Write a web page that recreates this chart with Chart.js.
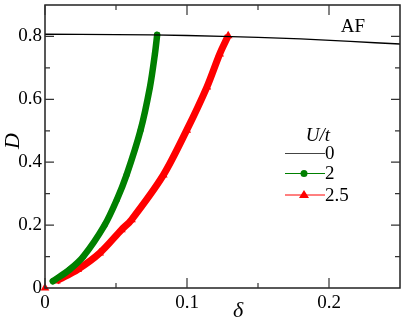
<!DOCTYPE html>
<html><head><meta charset="utf-8">
<script src="https://cdn.jsdelivr.net/npm/chart.js@4"></script>
<style>html,body{margin:0;padding:0;background:#fff;overflow:hidden}#wrap{width:409px;height:323px;position:relative}</style>
</head><body><div id="wrap"><canvas id="c"></canvas></div>
<script>
// U/t = 0 (AF boundary)
const afDelta = [0, 0.05, 0.1, 0.15, 0.18, 0.215, 0.25];
const afD     = [0.807, 0.806, 0.803, 0.797, 0.792, 0.784, 0.776];
// U/t = 2
const u2Delta = [0.0055, 0.0173, 0.027, 0.042, 0.0505, 0.0574, 0.0673, 0.0739, 0.0774, 0.079];
const u2D     = [0.0215, 0.0585, 0.1, 0.2, 0.28, 0.359, 0.502, 0.639, 0.744, 0.805];
// U/t = 2.5
const u25Delta = [0, 0.008, 0.023, 0.0385, 0.0538, 0.0609, 0.0833, 0.0998, 0.114, 0.123, 0.129];
const u25D     = [0, 0.022, 0.059, 0.111, 0.185, 0.217, 0.359, 0.502, 0.639, 0.744, 0.802];
const seriesLabels = ['0', '2', '2.5'];
const xTickLabels = [0, 0.1, 0.2];
const yTickLabels = [0, 0.2, 0.4, 0.6, 0.8];

const pts = (xs, ys) => xs.map((x, i) => ({x, y: ys[i]}));
const SERIF = '"Liberation Serif", "Times New Roman", serif';
const GREEN = '#008000', RED = '#ff0000';

const frame = {
  id: 'frame',
  afterDraw(chart) {
    const {ctx, chartArea: a, scales: {x, y}} = chart;
    ctx.save();
    ctx.strokeStyle = '#222'; ctx.lineWidth = 1.5;
    ctx.strokeRect(a.left, a.top, a.right - a.left, a.bottom - a.top);
    ctx.strokeStyle = '#333'; ctx.lineWidth = 1.2;
    ctx.beginPath();
    [0, 0.05, 0.1, 0.15, 0.2].forEach(v => {
      const px = x.getPixelForValue(v);
      const L = (Math.round(v * 100) % 10 === 0) ? 10 : 5;
      ctx.moveTo(px, a.bottom); ctx.lineTo(px, a.bottom - L);
      ctx.moveTo(px, a.top); ctx.lineTo(px, a.top + L);
    });
    [0.1, 0.2, 0.3, 0.4, 0.5, 0.6, 0.7, 0.8].forEach(v => {
      const py = y.getPixelForValue(v);
      const L = (Math.round(v * 10) % 2 === 0) ? 9 : 5;
      ctx.moveTo(a.left, py); ctx.lineTo(a.left + L, py);
      ctx.moveTo(a.right, py); ctx.lineTo(a.right - L, py);
    });
    ctx.stroke();
    // texts
    ctx.fillStyle = '#000';
    ctx.textAlign = 'center'; ctx.textBaseline = 'middle';
    ctx.font = '19px ' + SERIF;
    ctx.fillText('AF', 353, 27);
    ctx.font = 'italic 22px ' + SERIF;
    ctx.fillText('\u03b4', 238, 311);
    ctx.save();
    ctx.translate(13, 141); ctx.rotate(-Math.PI / 2);
    ctx.fillText('D', 0, 0);
    ctx.restore();
    // legend
    ctx.font = 'italic 19px ' + SERIF;
    ctx.fillText('U/t', 318, 136);
    const items = [
      {c: '#444', y: 153.5, m: null},
      {c: GREEN, y: 173.5, m: 'circle'},
      {c: RED, y: 195, m: 'triangle'}
    ];
    ctx.font = '19px ' + SERIF;
    ctx.textAlign = 'left';
    items.forEach((it, i) => {
      ctx.strokeStyle = it.c; ctx.lineWidth = 1;
      ctx.beginPath(); ctx.moveTo(285, it.y); ctx.lineTo(325, it.y); ctx.stroke();
      ctx.fillStyle = it.c;
      if (it.m === 'circle') { ctx.beginPath(); ctx.arc(304, it.y, 3.5, 0, Math.PI * 2); ctx.fill(); }
      if (it.m === 'triangle') { ctx.beginPath(); ctx.moveTo(304, it.y - 5); ctx.lineTo(309, it.y + 3); ctx.lineTo(299, it.y + 3); ctx.closePath(); ctx.fill(); }
      ctx.fillStyle = '#000';
      ctx.fillText(seriesLabels[i], 325, it.y + 1);
    });
    ctx.restore();
  }
};

new Chart(document.getElementById('c'), {
  type: 'scatter',
  data: {
    datasets: [
      {label: seriesLabels[0], data: pts(afDelta, afD), showLine: true, borderColor: '#000', borderWidth: 1.3, pointRadius: 0, tension: 0.3},
      {label: seriesLabels[1], data: pts(u2Delta, u2D), showLine: true, borderColor: GREEN, backgroundColor: GREEN, borderWidth: 6.5, borderCapStyle: 'round', borderJoinStyle: 'round', pointRadius: 3, pointStyle: 'circle', pointBorderWidth: 0, tension: 0.3},
      {label: seriesLabels[2], data: pts(u25Delta, u25D), showLine: true, clip: false, borderColor: RED, backgroundColor: RED, borderWidth: 7, borderJoinStyle: 'round', pointRadius: 5, pointStyle: 'triangle', pointBorderWidth: 0, tension: 0.3,
        segment: {borderColor: c => c.p0DataIndex === 0 ? 'rgba(0,0,0,0)' : RED}}
    ]
  },
  options: {
    responsive: true, maintainAspectRatio: false, animation: false,
    layout: {padding: {top: 5, right: 9, left: 0, bottom: 0}},
    plugins: {legend: {display: false}, tooltip: {enabled: false}},
    scales: {
      x: {type: 'linear', min: 0, max: 0.25,
        grid: {display: false, drawTicks: false}, border: {display: false},
        ticks: {stepSize: 0.1, color: '#000', padding: 4, font: {family: SERIF, size: 19}, maxRotation: 0},
        afterBuildTicks: s => { s.ticks = xTickLabels.map(v => ({value: v})); },
        afterFit: s => { s.height = 35; s.paddingLeft = 0; s.paddingRight = 0; }},
      y: {type: 'linear', min: 0, max: 0.9,
        grid: {display: false, drawTicks: false}, border: {display: false},
        ticks: {stepSize: 0.2, color: '#000', padding: 3, font: {family: SERIF, size: 19}},
        afterBuildTicks: s => { s.ticks = yTickLabels.map(v => ({value: v})); },
        afterFit: s => { s.width = 45; s.paddingTop = 0; s.paddingBottom = 0; }}
    }
  },
  plugins: [frame]
});
</script></body></html>
